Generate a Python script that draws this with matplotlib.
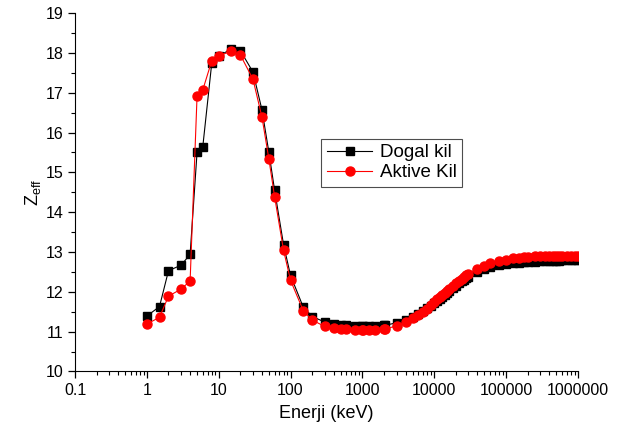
import numpy as np
import matplotlib
matplotlib.use("Agg")
import matplotlib.pyplot as plt
from matplotlib.ticker import LogLocator, MultipleLocator, NullFormatter

plt.rcParams["font.family"] = ["Liberation Sans", "DejaVu Sans"]
plt.rcParams["mathtext.default"] = "regular"

# Photon energies (keV)
energy = [1, 1.5, 2, 3, 4, 5, 6, 8, 10, 15, 20, 30, 40, 50, 60, 80, 100,
          150, 200, 300, 400, 500, 600, 800, 1000, 1022, 1250, 1500, 2000,
          2044, 3000, 4000, 5000, 6000, 7000, 8000, 9000, 10000, 11000,
          12000, 13000, 14000, 15000, 16000, 18000, 20000, 22000, 24000,
          26000, 28000, 30000, 40000, 50000, 60000, 80000, 100000, 125000,
          150000, 175000, 200000, 250000, 300000, 350000, 400000, 450000,
          500000, 550000, 600000, 700000, 800000, 900000, 1000000]

# Zeff - Dogal kil
dogal = [11.39, 11.63, 12.53, 12.67, 12.94, 15.51, 15.64, 17.74, 17.92,
         18.10, 18.06, 17.52, 16.57, 15.50, 14.55, 13.18, 12.41, 11.62,
         11.38, 11.24, 11.19, 11.17, 11.16, 11.15, 11.15, 11.15, 11.15,
         11.15, 11.16, 11.16, 11.22, 11.30, 11.38, 11.45, 11.52, 11.59,
         11.65, 11.71, 11.77, 11.83, 11.88, 11.93, 11.97, 12.01, 12.09,
         12.15, 12.21, 12.26, 12.30, 12.34, 12.38, 12.50, 12.57, 12.62,
         12.67, 12.70, 12.72, 12.73, 12.74, 12.75, 12.76, 12.77, 12.77,
         12.78, 12.78, 12.78, 12.78, 12.79, 12.79, 12.79, 12.79, 12.79]

# Zeff - Aktive Kil
aktive = [11.19, 11.36, 11.89, 12.07, 12.27, 16.93, 17.07, 17.80, 17.93,
          18.04, 17.95, 17.34, 16.39, 15.33, 14.39, 13.04, 12.29, 11.53,
          11.29, 11.13, 11.09, 11.07, 11.06, 11.05, 11.05, 11.05, 11.05,
          11.05, 11.07, 11.07, 11.14, 11.24, 11.33, 11.42, 11.50, 11.58,
          11.66, 11.74, 11.81, 11.87, 11.93, 11.98, 12.03, 12.07, 12.15,
          12.22, 12.28, 12.33, 12.38, 12.42, 12.46, 12.58, 12.66, 12.72,
          12.78, 12.81, 12.84, 12.86, 12.87, 12.88, 12.89, 12.89, 12.90,
          12.90, 12.90, 12.90, 12.90, 12.90, 12.90, 12.90, 12.90, 12.90]

xtick_vals = [0.1, 1, 10, 100, 1000, 10000, 100000, 1000000]
xtick_labels = ["0.1", "1", "10", "100", "1000", "10000", "100000", "1000000"]

fig = plt.figure(figsize=(6.17, 4.37), dpi=100)
ax = fig.add_axes([0.1216, 0.150, 0.815, 0.820])

ax.plot(energy, dogal, color="black", marker="s", markersize=6, linewidth=0.8,
        label="Dogal kil")
ax.plot(energy, aktive, color="red", marker="o", markersize=6.5, linewidth=0.8,
        label="Aktive Kil")

ax.set_xscale("log")
ax.set_xlim(0.1, 1000000)
ax.set_ylim(10, 19)
ax.set_xticks(xtick_vals)
ax.set_xticklabels(xtick_labels)
ax.xaxis.set_minor_locator(LogLocator(base=10, subs=np.arange(2, 10), numticks=20))
ax.xaxis.set_minor_formatter(NullFormatter())
ax.yaxis.set_major_locator(MultipleLocator(1))
ax.yaxis.set_minor_locator(MultipleLocator(0.5))

ax.spines["top"].set_visible(False)
ax.spines["right"].set_visible(False)
ax.tick_params(which="major", direction="out", length=5, width=0.9, labelsize=11.5)
ax.tick_params(which="minor", direction="out", length=3, width=0.8)

ax.set_xlabel("Enerji (keV)", fontsize=13, labelpad=5)
ax.set_ylabel("Z$_{eff}$", fontsize=13, labelpad=2)

leg = ax.legend(loc="upper left", bbox_to_anchor=(0.49, 0.65), fontsize=13.5,
                fancybox=False, framealpha=1, edgecolor="0.3",
                handlelength=2.4, borderpad=0.3, labelspacing=0.15,
                handletextpad=0.4, borderaxespad=0)
leg.get_frame().set_linewidth(0.8)

fig.savefig("out.png", dpi=100)
